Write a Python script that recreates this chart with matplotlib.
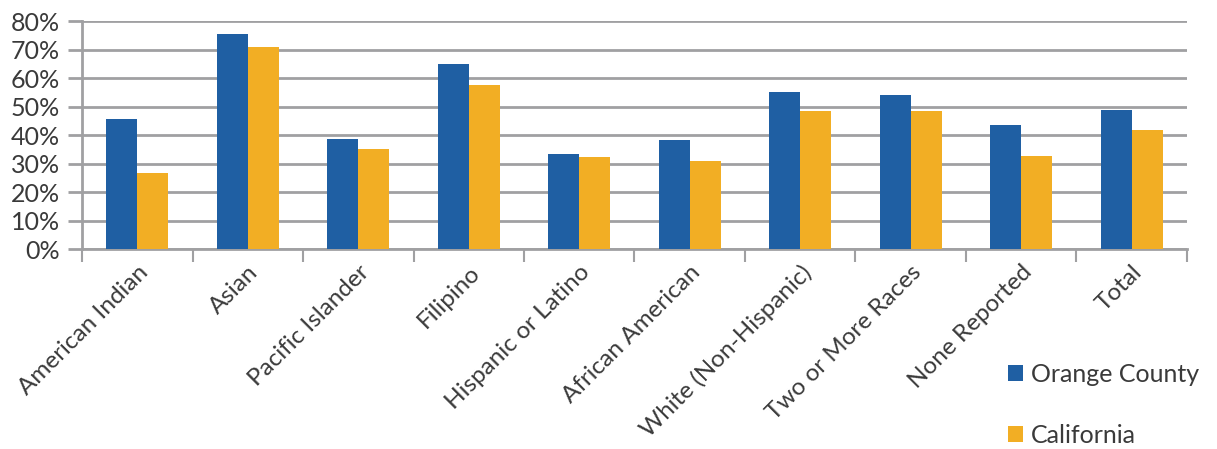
import matplotlib
matplotlib.use('Agg')
import matplotlib.pyplot as plt
from matplotlib.ticker import FixedLocator, PercentFormatter

categories = ['American Indian', 'Asian', 'Pacific Islander', 'Filipino',
              'Hispanic or Latino', 'African American', 'White (Non-Hispanic)',
              'Two or More Races', 'None Reported', 'Total']
orange_county = [45.7, 75.4, 38.6, 64.9, 33.4, 38.4, 55.1, 54.2, 43.5, 48.9]
california = [26.7, 71.0, 35.1, 57.6, 32.3, 31.0, 48.5, 48.3, 32.6, 41.9]
series_names = ['Orange County', 'California']

blue = '#1f5fa3'
gold = '#f2ae24'
grey = '#a0a0a2'
text_color = '#3a3a3a'

plt.rcParams['font.family'] = ['Lato', 'DejaVu Sans']

fig = plt.figure(figsize=(12.17, 4.49), dpi=100)
ax = fig.add_axes([0.0674, 0.4454, 0.9079, 0.5078])

x = list(range(len(categories)))
w = 0.28
ax.bar([i - w / 2 for i in x], orange_county, w, color=blue, label=series_names[0], zorder=3)
ax.bar([i + w / 2 for i in x], california, w, color=gold, label=series_names[1], zorder=3)

ax.set_xlim(-0.5, len(categories) - 0.5)
ax.set_ylim(0, 80)
ax.set_yticks(range(0, 81, 10))
ax.yaxis.set_major_formatter(PercentFormatter(decimals=0))
ax.yaxis.grid(True, color=grey, linewidth=2)
ax.set_axisbelow(True)

ax.set_xticks(x)
ax.set_xticklabels(categories, rotation=45, ha='right', rotation_mode='anchor')
ax.xaxis.set_minor_locator(FixedLocator([i - 0.5 for i in range(len(categories) + 1)]))
ax.tick_params(axis='x', which='major', length=0, pad=9, labelsize=17.5, labelcolor=text_color)
ax.tick_params(axis='x', which='minor', length=9, width=1.5, color=grey)
ax.tick_params(axis='y', length=10, width=2, color=grey, labelsize=18,
               labelcolor=text_color, pad=6)

for side in ['top', 'right']:
    ax.spines[side].set_visible(False)
for side in ['left', 'bottom']:
    ax.spines[side].set_color(grey)
    ax.spines[side].set_linewidth(2)

fig.legend(loc='lower left', bbox_to_anchor=(0.81, -0.045), frameon=False,
           fontsize=18, labelcolor=text_color, handlelength=0.6, handleheight=0.6,
           handletextpad=0.3, labelspacing=1.5)

fig.savefig('out.png', dpi=100)
